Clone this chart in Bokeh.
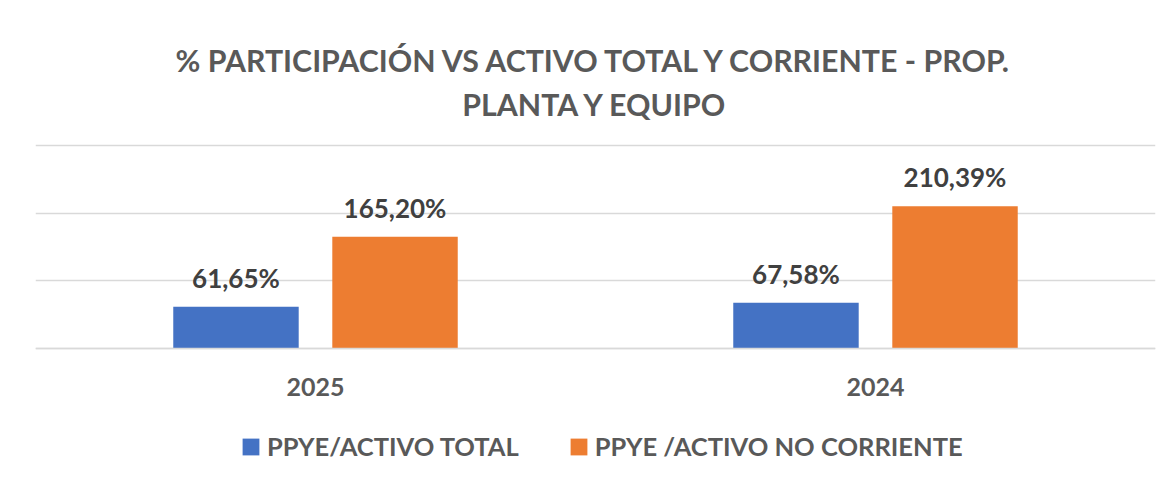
from bokeh.plotting import figure
from bokeh.models import (ColumnDataSource, FactorRange, Range1d, LabelSet, Label,
                          Legend, LegendItem, FixedTicker)
from bokeh.core.properties import value
from bokeh.transform import dodge
from bokeh.embed import file_html
from bokeh.resources import INLINE

years = ["2025", "2024"]
ppye_total = [61.65, 67.58]
ppye_no_corriente = [165.20, 210.39]
grid_ticks = [0, 100, 200, 300]
series_names = ["PPYE/ACTIVO TOTAL", "PPYE /ACTIVO NO CORRIENTE"]
title_lines = ["% PARTICIPACIÓN VS ACTIVO TOTAL Y CORRIENTE - PROP.", "PLANTA Y EQUIPO"]

BLUE = "#4472C4"
ORANGE = "#ED7D31"
GRID = "#D9D9D9"
FONT = "Lato"

def fmt(v):
    return f"{v:.2f}".replace(".", ",") + "%"

src = ColumnDataSource(dict(
    year=years,
    total=ppye_total,
    nocorr=ppye_no_corriente,
    total_lbl=[fmt(v) for v in ppye_total],
    nocorr_lbl=[fmt(v) for v in ppye_no_corriente],
))

# the frame covers the whole chart height; the value 0 sits 126 px above its bottom
FRAME_H = 474
PX_PER_UNIT = 0.6767
p = figure(frame_width=1120, frame_height=FRAME_H, x_range=FactorRange(*years),
           y_range=Range1d(-126 / PX_PER_UNIT, 348 / PX_PER_UNIT),
           output_backend="svg", toolbar_location=None,
           min_border_left=35, min_border_right=11, min_border_top=0, min_border_bottom=0)
p.x_range.range_padding = 0
p.outline_line_color = None
p.background_fill_color = "white"
p.border_fill_color = "white"

off = 0.142
bw = 0.224
r1 = p.vbar(x=dodge("year", -off, range=p.x_range), top="total", width=bw, source=src,
            fill_color=BLUE, line_color=None)
r2 = p.vbar(x=dodge("year", off, range=p.x_range), top="nocorr", width=bw, source=src,
            fill_color=ORANGE, line_color=None)

for col, lbl, o in (("total", "total_lbl", -off), ("nocorr", "nocorr_lbl", off)):
    p.add_layout(LabelSet(x=dodge("year", o, range=p.x_range), y=col, text=lbl, source=src,
                          y_offset=19, text_align="center", text_baseline="alphabetic",
                          text_font=value(FONT), text_font_style="bold",
                          text_font_size="26px", text_color="#404040"))

# axes: category axis drawn at value 0
p.yaxis.visible = False
p.yaxis.ticker = FixedTicker(ticks=grid_ticks)
p.ygrid.ticker = FixedTicker(ticks=grid_ticks)
p.ygrid.grid_line_color = GRID
p.ygrid.grid_line_width = 1.5
p.xgrid.visible = False
p.xaxis.fixed_location = 0
p.xaxis.axis_line_color = GRID
p.xaxis.axis_line_width = 1.5
p.xaxis.major_tick_line_color = None
p.xaxis.minor_tick_line_color = None
p.xaxis.major_tick_out = 0
p.xaxis.major_label_standoff = 29
p.xaxis.major_label_text_font = FONT
p.xaxis.major_label_text_font_style = "bold"
p.xaxis.major_label_text_font_size = "25px"
p.xaxis.major_label_text_color = "#595959"

# two-line title, placed relative to the plot frame (pixels from its bottom-left)
for txt, yy in zip(title_lines, (415, 371)):
    p.add_layout(Label(x=560, y=yy, x_units="screen", y_units="screen", text=txt,
                       text_align="center", text_baseline="alphabetic",
                       text_font=FONT, text_font_style="bold", text_font_size="30.3px",
                       text_color="#595959"))

legend = Legend(items=[LegendItem(label=series_names[0], renderers=[r1]),
                       LegendItem(label=series_names[1], renderers=[r2])],
                orientation="horizontal", location=(205, 13),
                glyph_width=21, glyph_height=21, label_height=21, label_standoff=6,
                spacing=49, padding=0, margin=0, border_line_color=None,
                background_fill_alpha=0,
                label_text_font=FONT, label_text_font_style="bold",
                label_text_font_size="25.5px", label_text_color="#595959")
p.add_layout(legend, "center")

open("out.html", "w").write(file_html(p, INLINE))
